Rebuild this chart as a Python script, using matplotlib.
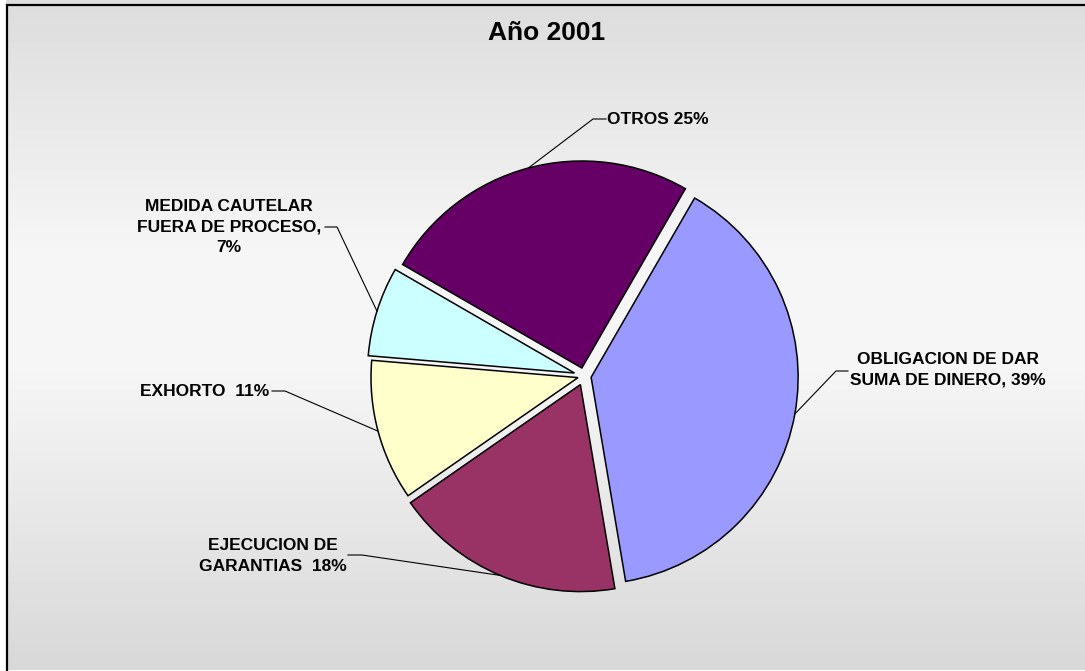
import matplotlib
matplotlib.use("Agg")
import matplotlib.pyplot as plt
import numpy as np
from matplotlib.patches import Rectangle

# datos
titulo = "Año 2001"
porcentajes = [39, 18, 11, 7, 25]
etiquetas = ["OBLIGACION DE DAR\nSUMA DE DINERO, 39%",
             "EJECUCION DE\nGARANTIAS  18%",
             "EXHORTO  11%",
             "MEDIDA CAUTELAR\nFUERA DE PROCESO,\n7%",
             "OTROS 25%"]
colores = ["#9999FF", "#993366", "#FFFFCC", "#CCFFFF", "#660066"]
separacion = [0.035, 0.045, 0.03, 0.048, 0.04]

W, H = 1085, 671
plt.rcParams['font.family'] = ['Liberation Sans', 'DejaVu Sans']

fig = plt.figure(figsize=(W / 100, H / 100), dpi=100)
ax = fig.add_axes([0, 0, 1, 1])

# fondo degradado dentro del borde
ys = np.arange(H)
gris = np.interp(ys, [4, 300, 420, 671], [0.85, 0.965, 0.965, 0.865])
img = np.repeat(gris[:, None], 3, axis=1)[:, None, :]
ax.imshow(img, extent=(6, W + 20, H + 0.5, 0.5), aspect='auto',
          interpolation='bilinear', zorder=0)

# pie (coordenadas en pixeles, y hacia arriba)
cx, cy, r = 584, H - 376, 207
wedges, _ = ax.pie(porcentajes, colors=colores, startangle=60, counterclock=False,
                   explode=[s * r for s in separacion], center=(cx, cy), radius=r,
                   wedgeprops=dict(edgecolor='black', linewidth=1.1))
for w in wedges:
    w.set_zorder(2)

# etiquetas: centro del texto, codo y fin de la linea (pixeles)
pos_texto = [(948, 370), (273, 556), (205, 391), (229, 227), (658, 119)]
codo = [(836, 371), (362, 555), (285, 391), (337, 227), (593, 119)]
fin = [(848, 371), (348, 555), (272, 391), (325, 227), (606, 119)]

for w, txt, (tx, ty), (ex, ey), (fx, fy) in zip(wedges, etiquetas, pos_texto, codo, fin):
    ang = np.deg2rad((w.theta1 + w.theta2) / 2)
    ax_ = w.center[0] + w.r * np.cos(ang)
    ay_ = w.center[1] + w.r * np.sin(ang)
    ax.plot([ax_, ex, fx], [ay_, H - ey, H - fy], color='black', lw=0.8, zorder=3)
    ax.text(tx, H - ty, txt, ha='center', va='center', fontsize=12.5,
            fontweight='bold', linespacing=1.45, zorder=4)

ax.text(547, H - 33, titulo, ha='center', va='center', fontsize=19, fontweight='bold')

# borde del grafico
ax.add_patch(Rectangle((6.5, -20), W + 50, H - 4.5 + 20, fill=False,
                       edgecolor='black', linewidth=1.6, zorder=5))

ax.set_aspect('auto')
ax.set_xlim(0, W)
ax.set_ylim(0, H)
ax.axis('off')

fig.savefig("out.png", dpi=100, facecolor='white')
